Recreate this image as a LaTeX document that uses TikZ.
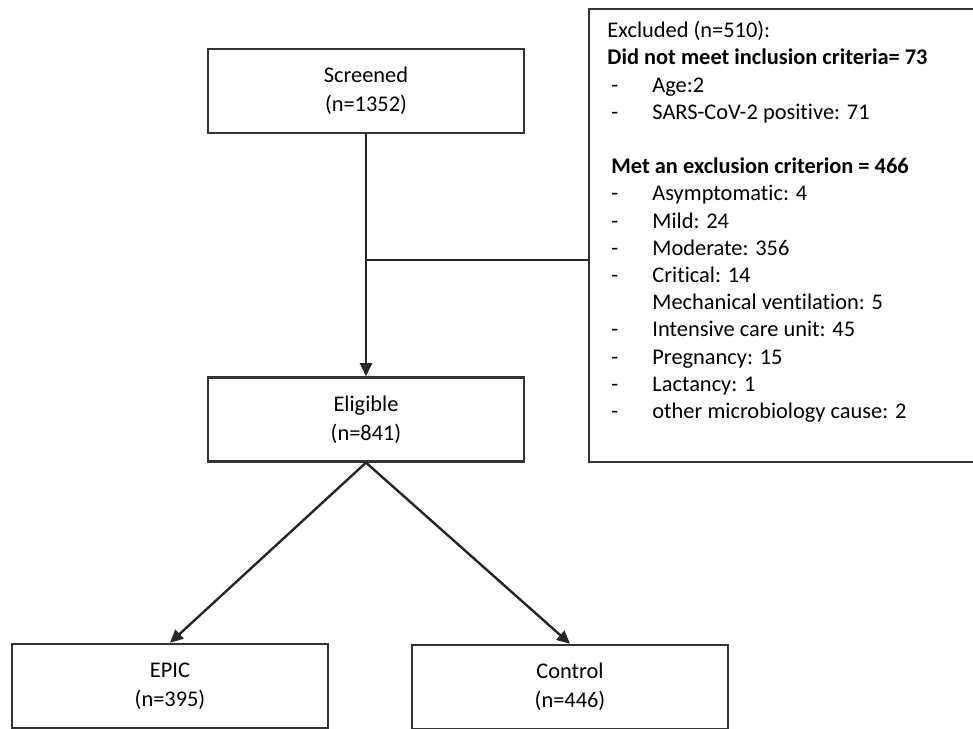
\documentclass[tikz,border=0pt]{standalone}
\usepackage{fontspec}
\setmainfont{Carlito}[Ligatures={NoCommon}]
\usepackage{tikz}
\usetikzlibrary{calc, arrows.meta, positioning}
\tikzset{
  flowbox/.style={draw=black!80, line width=1.2bp, minimum width=158bp, minimum height=42bp,
    inner sep=0pt, align=center, font=\fontsize{11.2bp}{14.5bp}\selectfont},
  exclbox/.style={draw=black!80, line width=1.2bp, minimum width=200bp, minimum height=226.5bp,
    inner sep=0pt, anchor=north west},
  excltext/.style={inner sep=0pt, anchor=north west, align=left,
    font=\fontsize{11.2bp}{13.6bp}\selectfont},
  flowarrow/.style={-{Triangle[length=6.5bp,width=6bp]}, line width=1.2bp, draw=black!85},
  flowline/.style={line width=1.2bp, draw=black!85}
}
\newcommand{\exitem}[1]{\makebox[22.5bp][l]{\hspace{2bp}-}#1}

\begin{document}
\begin{tikzpicture}[x=0.5bp, y=-0.5bp]
  \clip (0,0) rectangle (973,729);
  \fill[white] (0,0) rectangle (973,729);
  % main flow
  \node[flowbox] (scr) at (366,91) {Screened\\(n=1352)};
  \node[flowbox, below=121bp of scr] (elig) {Eligible\\(n=841)};
  \node[flowbox] (epic) at (170,686) {EPIC\\(n=395)};
  \node[flowbox] (ctrl) at (570,687) {Control\\(n=446)};
  % exclusion box
  \node[exclbox] (excl) at (588,8) {};
  \node[excltext] (excllist) at ($(excl.north west)+(19,13)$) {%
    Excluded (n=510):\\
    \textbf{Did not meet inclusion criteria= 73}\\
    \exitem{Age:2}\\
    \exitem{SARS-CoV-2 positive: 71}\\[13.6bp]
    \hspace{2bp}\textbf{Met an exclusion criterion = 466}\\
    \exitem{Asymptomatic: 4}\\
    \exitem{Mild: 24}\\
    \exitem{Moderate: 356}\\
    \exitem{Critical: 14}\\
    \hspace{22.5bp}Mechanical ventilation: 5\\
    \exitem{Intensive care unit: 45}\\
    \exitem{Pregnancy: 15}\\
    \exitem{Lactancy: 1}\\
    \exitem{other microbiology cause: 2}};
  % connectors
  \draw[flowarrow] (scr) -- (elig);
  \coordinate (branch) at ($(scr.south)!0.52!(elig.north)$);
  \draw[flowline] (branch) -- (branch -| excl.west);
  \draw[flowarrow] (elig.south) -- (epic.north);
  \draw[flowarrow] (elig.south) -- (ctrl.north);
\end{tikzpicture}
\end{document}
